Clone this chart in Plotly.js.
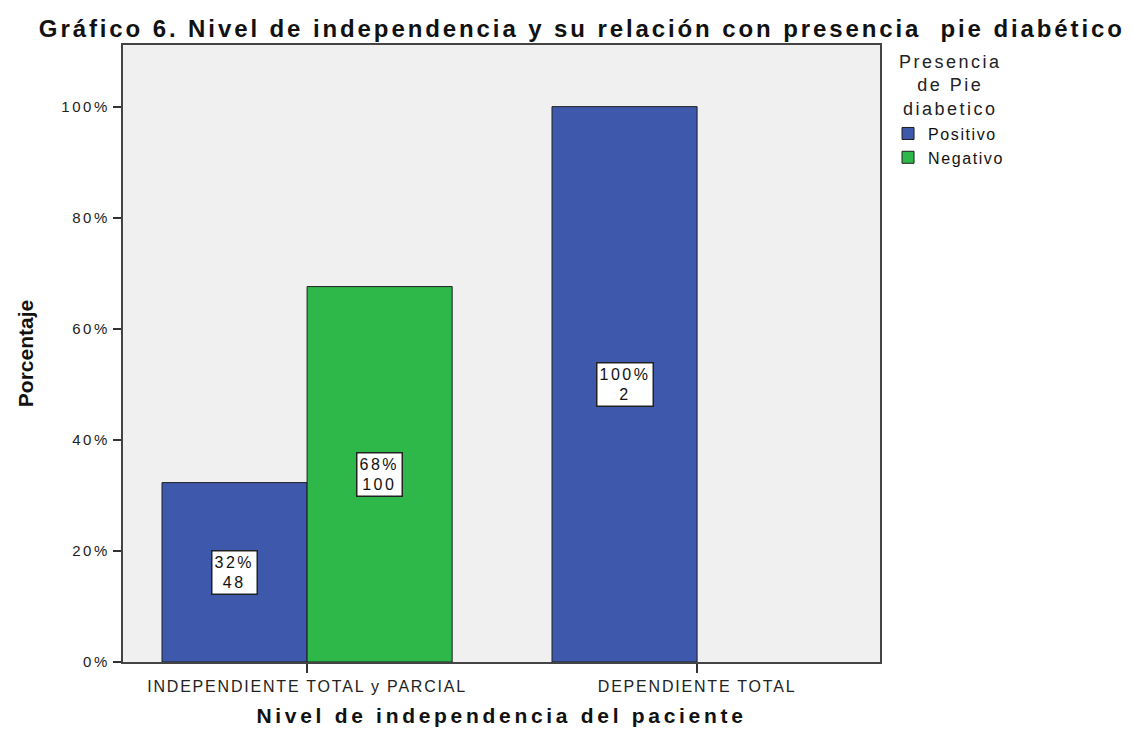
<!DOCTYPE html>
<html>
<head>
<meta charset="utf-8">
<script src="https://cdn.plot.ly/plotly-3.0.1.min.js"></script>
<style>
  html, body { margin: 0; padding: 0; background: #fff; }
  #myPlot { width: 1132px; height: 729px; }
  /* the original export uses loosely spaced text */
  .gtitle { letter-spacing: 2.9px; }
  .xtitle { letter-spacing: 3.7px; }
  .xtick text { letter-spacing: 1.8px; }
  .ytick text { letter-spacing: 2.6px; }
  .legendtext { letter-spacing: 1.6px; }
  .annotation-text { letter-spacing: 2.5px; }
</style>
</head>
<body>
<div id="myPlot"></div>
<script>
var categories = ["INDEPENDIENTE TOTAL y PARCIAL", "DEPENDIENTE TOTAL"];
var positivoPct = [32.3, 100];
var negativoPct = [67.6, 0];
var positivoN = [48, 2];
var negativoN = [100, 0];
var seriesNames = ["Positivo", "Negativo"];
var yTickVals = [0, 20, 40, 60, 80, 100];
var yTickText = ["0%", "20%", "40%", "60%", "80%", "100%"];

var bargap = 0.256;
var barOutline = {color: "#1e1e1e", width: 1};
var font = "Liberation Sans, Arial, sans-serif";

// empty categories get no bar at all
function dropZero(arr) {
  return arr.map(function (v) { return v > 0 ? v : null; });
}

// Define Data
var data = [
  {
    type: "bar",
    x: categories,
    y: dropZero(positivoPct),
    name: seriesNames[0],
    marker: {color: "#3E58AC", line: barOutline},
    hoverinfo: "skip"
  },
  {
    type: "bar",
    x: categories,
    y: dropZero(negativoPct),
    name: seriesNames[1],
    marker: {color: "#2EB84A", line: barOutline},
    hoverinfo: "skip"
  }
];

// value labels in white boxes, centred in each bar
var annotations = [];
var half = (1 - bargap) / 4;
[[positivoPct, positivoN, -half], [negativoPct, negativoN, half]].forEach(function (s) {
  s[0].forEach(function (v, i) {
    if (v <= 0) return;
    annotations.push({
      x: i + s[2], y: v / 2, xref: "x", yref: "y",
      text: Math.round(v) + "%<br>" + s[1][i],
      showarrow: false,
      font: {family: font, size: 16, color: "#111"},
      bgcolor: "#ffffff", bordercolor: "#222", borderwidth: 1.5, borderpad: 2
    });
  });
});

// legend heading, centred above the entries
annotations.push({
  x: 1.0925, y: 0.992, xref: "paper", yref: "paper",
  xanchor: "center", yanchor: "top", align: "center",
  text: "Presencia<br>de Pie<br>diabetico",
  showarrow: false,
  font: {family: font, size: 18, color: "#222"}
});

// Define Layout
var layout = {
  width: 1132,
  height: 729,
  margin: {l: 123, r: 252, t: 45, b: 67},
  paper_bgcolor: "#ffffff",
  plot_bgcolor: "#F0F0F0",
  barmode: "group",
  bargap: bargap,
  bargroupgap: 0,
  font: {family: font, color: "#222"},
  title: {
    text: "<b>Gráfico 6. Nivel de independencia y su relación con presencia  pie diabético</b>",
    font: {family: font, size: 24, color: "#111"},
    x: 0.514, xanchor: "center", y: 0.972, yanchor: "top"
  },
  xaxis: {
    type: "category",
    range: [-0.472, 1.469],
    showline: true, mirror: true, linecolor: "#444", linewidth: 2,
    ticks: "outside", ticklen: 9, tickcolor: "#333", tickwidth: 1.5,
    tickfont: {size: 16, color: "#222"},
    showgrid: false, zeroline: false,
    title: {text: "<b>Nivel de independencia del paciente</b>", font: {size: 21, color: "#111"}, standoff: 14}
  },
  yaxis: {
    range: [0, 111.1],
    tickmode: "array",
    tickvals: yTickVals,
    ticktext: yTickText,
    showline: true, mirror: true, linecolor: "#444", linewidth: 2,
    ticks: "outside", ticklen: 8, tickcolor: "#333", tickwidth: 1.5,
    tickfont: {size: 15, color: "#222"},
    showgrid: false, zeroline: false,
    title: {text: "<b>Porcentaje</b>", font: {size: 21, color: "#111"}, standoff: 22}
  },
  showlegend: true,
  legend: {
    x: 1.0106, xanchor: "left", y: 0.884, yanchor: "top",
    bgcolor: "rgba(0,0,0,0)",
    font: {size: 16, color: "#111"},
    tracegroupgap: 0
  },
  annotations: annotations
};

// Display using Plotly
Plotly.newPlot("myPlot", data, layout, {displayModeBar: false});
</script>
</body>
</html>
